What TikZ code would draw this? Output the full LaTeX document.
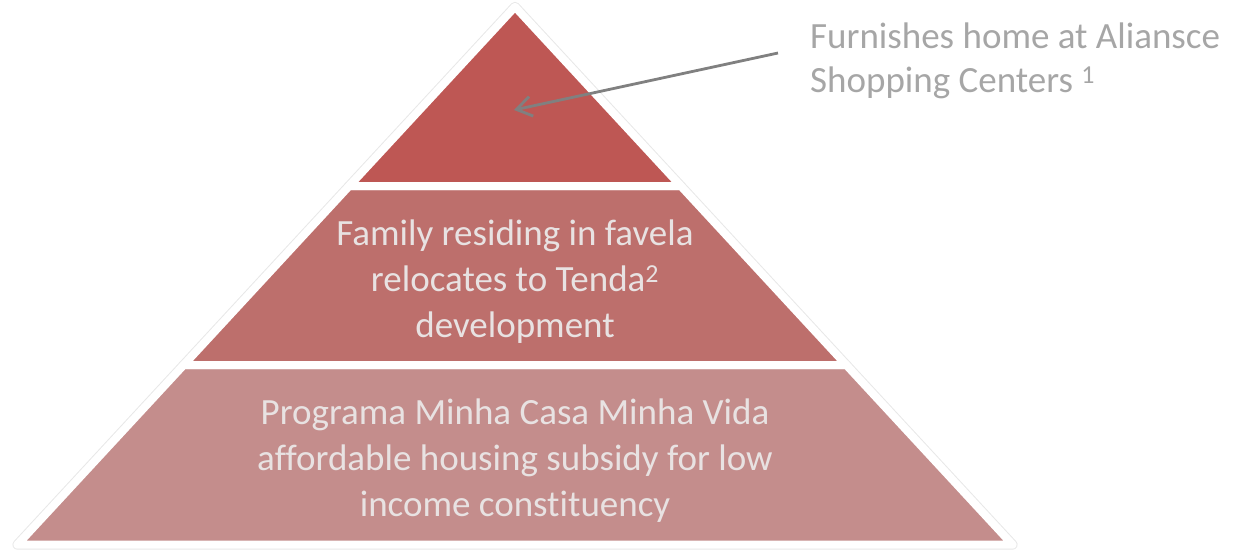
\documentclass[tikz,border=0pt]{standalone}
\usepackage{fontspec}
\setmainfont[RawFeature={-liga;-clig}]{Carlito}
\usetikzlibrary{arrows.meta,calc}

\definecolor{tierA}{RGB}{190,87,84}
\definecolor{tierB}{RGB}{189,111,108}
\definecolor{tierC}{RGB}{196,141,140}
\definecolor{tiertext}{RGB}{232,226,226}
\definecolor{labelgray}{RGB}{166,166,166}
\definecolor{arrowgray}{RGB}{128,128,128}

\tikzset{
  tiershadow/.style={draw=black!9, line width=10pt, line join=round},
  tier/.style={fill=#1, draw=white, line width=8pt, line join=round},
  tiertxt/.style={text=tiertext, align=center, inner sep=0pt,
    font=\fontsize{37}{46}\selectfont},
  calloutlabel/.style={text=labelgray, align=left, anchor=west, inner sep=0pt,
    font=\fontsize{37}{44}\selectfont},
  calloutarrow/.style={draw=arrowgray, line width=2.8pt,
    -{Straight Barb[length=15pt,width=20pt]}}
}

\begin{document}
\begin{tikzpicture}[x=1pt,y=-1pt]
  \useasboundingbox (0,0) rectangle (1233,549);

  % pyramid tiers: apex (515,6.8), cuts at y = 186, 365, 544.7
  \coordinate (apex) at (515,6.8);
  \coordinate (tl) at (349.2,186);   \coordinate (tr) at (680.8,186);
  \coordinate (ml) at (183.7,365);   \coordinate (mr) at (846.3,365);
  \coordinate (bl) at (17.4,544.7);  \coordinate (br) at (1012.6,544.7);

  \draw[tiershadow] (apex) -- (tr) -- (tl) -- cycle;
  \draw[tiershadow] (tl) -- (tr) -- (mr) -- (ml) -- cycle;
  \draw[tiershadow] (ml) -- (mr) -- (br) -- (bl) -- cycle;

  \draw[tier=tierC] (ml) -- (mr) -- (br) -- (bl) -- cycle;
  \draw[tier=tierB] (tl) -- (tr) -- (mr) -- (ml) -- cycle;
  \draw[tier=tierA] (apex) -- (tr) -- (tl) -- cycle;

  % tier captions
  \node[tiertxt] (midtxt) at (515,282)
    {Family residing in favela\\relocates to Tenda\textsuperscript{2}\\development};
  \node[tiertxt] (basetxt) at (515,461)
    {Programa Minha Casa Minha Vida\\affordable housing subsidy for low\\income constituency};

  % callout
  \node[calloutlabel] (lab) at (810,61)
    {Furnishes home at Aliansce\\Shopping Centers \textsuperscript{1}};
  \coordinate (toptip) at (514,110);
  \draw[calloutarrow] ([xshift=-32pt,yshift=8pt]lab.west) -- (toptip);
\end{tikzpicture}
\end{document}
